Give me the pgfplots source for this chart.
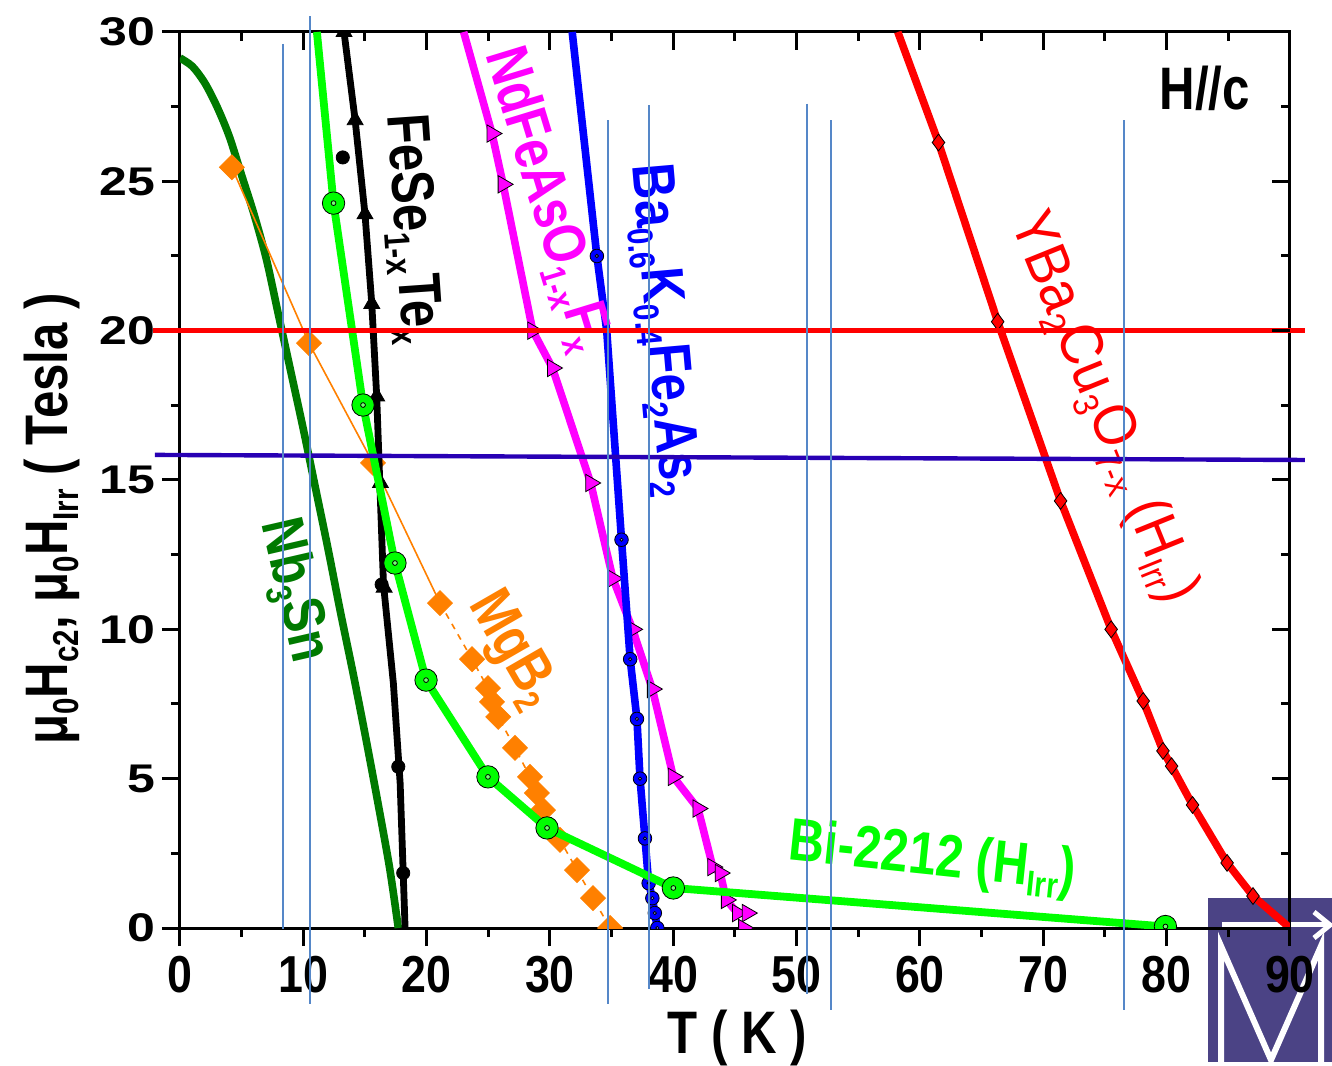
\documentclass[border=0pt]{standalone}
\usepackage{graphicx}
\usepackage{fontspec}
\setmainfont{Liberation Sans}
\usepackage{pgfplots}
\pgfplotsset{compat=1.18}

\definecolor{nbgreen}{RGB}{0,122,0}
\definecolor{bigreen}{RGB}{0,255,0}
\definecolor{mgorange}{RGB}{255,128,0}
\definecolor{ndmag}{RGB}{255,0,255}
\definecolor{bablue}{RGB}{0,0,255}
\definecolor{ybred}{RGB}{255,0,0}
\definecolor{hline}{RGB}{40,0,180}
\definecolor{vline}{RGB}{85,135,200}
\definecolor{logoblue}{RGB}{75,67,133}

\newcommand{\sbs}[1]{\raisebox{-0.35ex}{\scalebox{0.6}{#1}}}
\newcommand{\nar}[1]{\scalebox{0.82}[1]{#1}}
\newcommand{\lab}{\fontsize{30}{30}\selectfont\bfseries}
\newcommand{\labr}{\fontsize{30}{30}\selectfont}

\pgfplotsset{
  base/.style={
    scale only axis, width=555pt, height=448pt,
    at={(0pt,0pt)}, anchor=south west,
    xmin=0, xmax=90, ymin=0, ymax=30,
    xtick={0,10,...,90}, ytick={0,5,...,30},
    minor x tick num=1, minor y tick num=1,
    major tick length=9pt, minor tick length=4.5pt,
    every tick/.style={black, line width=1.5pt},
    /pgf/number format/assume math mode=true,
  },
}

\begin{document}
\begin{tikzpicture}
\useasboundingbox (-90pt,-68.5pt) rectangle (576pt,464pt);

% logo block in the lower right corner
\fill[logoblue] (514pt,-67pt) rectangle (576pt,15pt);
\draw[white, line width=3pt, line join=miter]
  (520.5pt,-68pt) -- (520.5pt,-9pt) -- (545.5pt,-66pt) -- (570.5pt,-9pt) -- (570.5pt,-68pt);
\draw[white, line width=2.5pt] (521pt,1.5pt) -- (575pt,1.5pt);
\draw[white, line width=2.5pt] (567pt,8pt) -- (575pt,1.5pt) -- (567pt,-5pt);

% data axis
\begin{axis}[base,
  clip marker paths=true,
  xtick pos=left, ytick pos=left, tick align=outside,
  axis line style={line width=1.5pt},
  xticklabel style={font=\fontsize{26}{26}\selectfont\bfseries, inner sep=0pt, yshift=-5pt},
  yticklabel style={font=\fontsize{20}{20}\selectfont\bfseries, inner sep=0pt, xshift=-3pt},
  xticklabel={\scalebox{0.86}[1]{\pgfmathprintnumber{\tick}}},
  yticklabel={\scalebox{1.25}[1]{\pgfmathprintnumber{\tick}}},
]
% Nb3Sn
\addplot[nbgreen, line width=3.8pt, smooth] coordinates {
  (0,29.13) (1,28.85) (2,28.3) (3,27.5) (4,26.5) (5,25.2) (6,23.9) (7,22.4)
  (8,20.5) (9,18.6) (10,16.7) (11,14.7) (12,12.7) (13,10.6) (14,8.6)
  (15,6.5) (16,4.3) (17,2.0) (17.7,0.0)};

% MgB2
\addplot[mgorange, line width=0.8pt] coordinates {
  (4.2,25.47) (10.46,19.58) (15.65,15.57) (21.08,10.88)};
\addplot[mgorange, line width=0.8pt, dashed] coordinates {
  (21.08,10.88) (23.68,9.0) (24.97,8.03) (25.3,7.57) (25.8,7.07) (27.16,6.03)
  (28.38,5.06) (28.94,4.52) (29.43,3.95) (30.81,2.95) (32.19,1.94) (33.49,1.0) (34.87,0.0)};
\addplot[only marks, mark=square*, mark size=4.4pt, mgorange,
  mark options={rotate=45, draw=none, fill=mgorange}] coordinates {
  (4.2,25.47) (10.46,19.58) (15.65,15.57) (21.08,10.88) (23.68,9.0) (24.97,8.03)
  (25.3,7.57) (25.8,7.07) (27.16,6.03) (28.38,5.06) (28.94,4.52) (29.43,3.95)
  (30.81,2.95) (32.19,1.94) (33.49,1.0) (34.87,0.0)};

% NdFeAsO1-xFx
\addplot[ndmag, line width=3.8pt] coordinates {
  (23.0,30.0) (25.3,26.6) (26.2,24.9) (28.6,20.0) (30.2,18.75) (33.3,14.9)
  (35.1,11.7) (36.7,10.0) (38.3,8.0) (40.0,5.06) (42.0,4.0) (43.2,2.04)
  (43.8,1.84) (44.3,0.94) (45.2,0.5)};
\addplot[only marks, mark=triangle*, mark size=5pt,
  mark options={rotate=-90, draw=none, fill=ndmag}] coordinates {
  (25.3,26.6) (26.2,24.9) (28.6,20.0) (30.2,18.75) (33.3,14.9)
  (35.1,11.7) (36.7,10.0) (38.3,8.0) (40.0,5.06) (42.0,4.0) (43.2,2.04)
  (43.8,1.84) (44.3,0.94) (45.2,0.5) (46.0,0.5) (45.7,0.0)};

% Ba0.6K0.4Fe2As2
\addplot[bablue, line width=3.8pt] coordinates {
  (31.8,30.0) (33.8,22.5) (34.6,20.0) (35.8,13.0) (36.5,9.0) (37.05,7.0)
  (37.3,5.0) (37.7,3.0) (38.0,1.5) (38.3,1.0) (38.5,0.5) (38.7,0.0)};
\addplot[only marks, mark=*, mark size=3.4pt,
  mark options={draw=none, fill=bablue}] coordinates {
  (33.8,22.5) (35.8,13.0) (36.5,9.0) (37.05,7.0)
  (37.3,5.0) (37.7,3.0) (38.0,1.5) (38.3,1.0) (38.5,0.5) (38.7,0.0)};
\addplot[only marks, mark=*, mark size=0.8pt,
  mark options={draw=none, fill=white, fill opacity=0.55}] coordinates {
  (33.8,22.5) (35.8,13.0) (36.5,9.0) (37.05,7.0)
  (37.3,5.0) (37.7,3.0) (38.0,1.5) (38.3,1.0) (38.5,0.5) (38.7,0.0)};

% YBa2Cu3O7-x
\addplot[ybred, line width=3.8pt] coordinates {
  (58.2,30.0) (61.5,26.3) (66.3,20.3) (71.4,14.3) (75.5,10.0) (78.1,7.6)
  (79.7,5.93) (80.4,5.42) (82.1,4.12) (84.9,2.18) (87.0,1.07) (90.0,0.0)};
\addplot[only marks, mark=diamond*, mark size=4.2pt,
  mark options={draw=none, fill=ybred}] coordinates {
  (61.5,26.3) (66.3,20.3) (71.4,14.3) (75.5,10.0) (78.1,7.6)
  (79.7,5.93) (80.4,5.42) (82.1,4.12) (84.9,2.18) (87.0,1.07)};

% FeSe1-xTex
\addplot[black, line width=3.4pt] coordinates {
  (13.3,30.0) (14.2,27.05) (15.0,23.9) (15.55,20.9) (15.95,17.8) (16.2,14.9)
  (16.5,11.5) (17.3,8.2) (17.85,4.85) (18.25,0.0)};
\addplot[only marks, mark=triangle*, mark size=4.6pt,
  mark options={draw=none, fill=black}] coordinates {
  (13.3,30.0) (14.2,27.05) (15.0,23.9) (15.55,20.9) (15.95,17.8) (16.25,14.9) (16.55,11.4)};
\addplot[only marks, mark=*, mark size=3.3pt,
  mark options={draw=none, fill=black}] coordinates {
  (13.2,25.8) (16.35,11.5) (17.7,5.4) (18.1,1.84)};

% Bi-2212
\addplot[bigreen, line width=3.9pt] coordinates {
  (11.1,30.0) (12.45,24.27) (14.84,17.51) (17.43,12.22) (19.95,8.30)
  (24.97,5.06) (29.76,3.35) (40.0,1.34) (79.9,0.05)};
\addplot[only marks, mark=*, mark size=5.6pt,
  mark options={draw=none, fill=bigreen}] coordinates {
  (12.45,24.27) (14.84,17.51) (17.43,12.22) (19.95,8.30)
  (24.97,5.06) (29.76,3.35) (40.0,1.34) (79.9,0.05)};
\addplot[only marks, mark=*, mark size=1.2pt,
  mark options={draw=none, fill=white, fill opacity=0.45}] coordinates {
  (12.45,24.27) (14.84,17.51) (17.43,12.22) (19.95,8.30)
  (24.97,5.06) (29.76,3.35) (40.0,1.34) (79.9,0.05)};
\end{axis}

% guide lines and labels
\begin{axis}[base, hide axis, clip=false]
\node[rotate=-86, text=black, font=\lab] at (axis cs:18.7,23.4) {\nar{FeSe\sbs{1-x}Te\sbs{x}}};
\node[rotate=-73, text=ndmag, font=\lab] at (axis cs:29.7,24.4) {\nar{NdFeAsO\sbs{1-x}F\sbs{x}}};
\node[rotate=-85, text=bablue, font=\lab] at (axis cs:39.1,20.0) {\nar{Ba\sbs{0.6}K\sbs{0.4}Fe\sbs{2}As\sbs{2}}};
\node[rotate=-68, text=ybred, font=\labr] at (axis cs:74.8,17.4) {\scalebox{0.9}[1]{YBa\sbs{2}Cu\sbs{3}O\sbs{7-x} (H\sbs{Irr})}};
\node[rotate=-77, text=nbgreen, font=\lab] at (axis cs:9.2,11.3) {\nar{Nb\sbs{3}Sn}};
\node[rotate=-60, text=mgorange, font=\lab] at (axis cs:26.9,9.3) {\nar{MgB\sbs{2}}};
\node[rotate=-6, text=bigreen, font=\lab] at (axis cs:61.0,2.3) {\nar{Bi-2212 (H\sbs{Irr})}};
\node[text=black, font=\lab] at (axis cs:83.1,28.1) {\nar{H//c}};

\node[rotate=90, text=black, font=\lab] at (axis cs:-10.4,13.7)
  {\nar{μ\sbs{0}H\sbs{c2}, μ\sbs{0}H\sbs{Irr} ( Tesla )}};
\node[anchor=base, text=black, font=\lab] at (axis cs:45.2,-4.2) {\nar{T ( K )}};

\draw[ybred, line width=2.5pt] (axis cs:-2.19,20) -- (axis cs:91.2,20);
\draw[hline, line width=2.2pt] (axis cs:-2.03,15.84) -- (axis cs:91.2,15.67);

\draw[vline, line width=0.8pt] (axis cs:8.35,29.6) -- (axis cs:8.35,-0.03);
\draw[vline, line width=0.8pt] (axis cs:10.54,30.53) -- (axis cs:10.54,-2.54);
\draw[vline, line width=0.8pt] (axis cs:34.70,27.05) -- (axis cs:34.70,-2.54);
\draw[vline, line width=0.8pt] (axis cs:38.03,27.55) -- (axis cs:38.03,-2.04);
\draw[vline, line width=0.8pt] (axis cs:50.84,27.6) -- (axis cs:50.84,-2.2);
\draw[vline, line width=0.8pt] (axis cs:52.78,27.05) -- (axis cs:52.78,-2.75);
\draw[vline, line width=0.8pt] (axis cs:76.54,27.05) -- (axis cs:76.54,-2.75);
\end{axis}

% mirrored ticks on top and right, pointing inward
\begin{axis}[base,
  xtick pos=right, ytick pos=right, tick align=inside,
  xticklabels={}, yticklabels={},
  axis line style={draw=none},
]
\end{axis}
\end{tikzpicture}
\end{document}
